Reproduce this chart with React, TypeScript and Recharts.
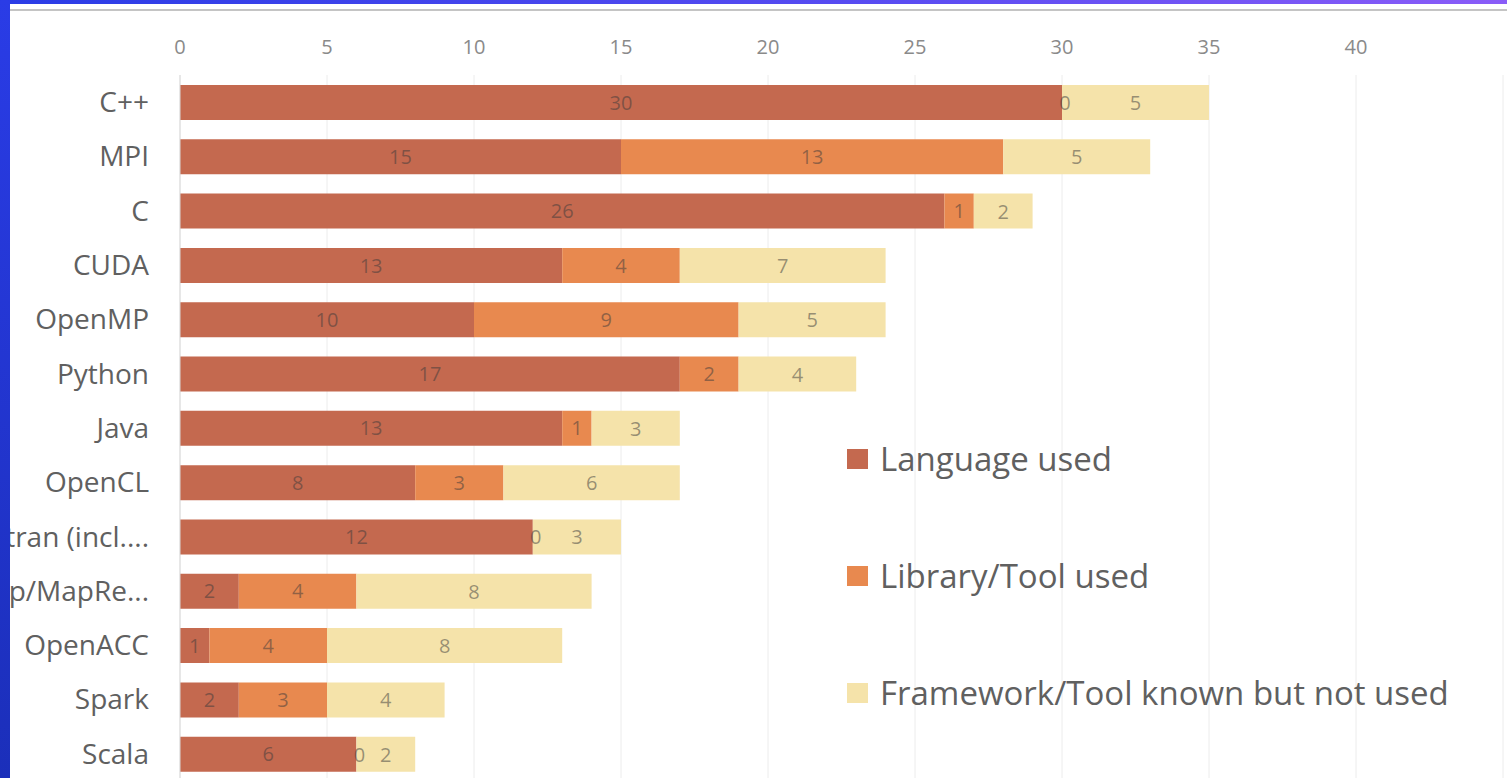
import React from "react";
import {
  BarChart,
  Bar,
  XAxis,
  YAxis,
  CartesianGrid,
  LabelList,
} from "recharts";

// categories (top to bottom) and the three stacked series
const categories = [
  "C++",
  "MPI",
  "C",
  "CUDA",
  "OpenMP",
  "Python",
  "Java",
  "OpenCL",
  "Fortran (incl....",
  "Hadoop/MapRe...",
  "OpenACC",
  "Spark",
  "Scala",
];
const languageUsed = [30, 15, 26, 13, 10, 17, 13, 8, 12, 2, 1, 2, 6];
const libraryUsed = [0, 13, 1, 4, 9, 2, 1, 3, 0, 4, 4, 3, 0];
const knownNotUsed = [5, 5, 2, 7, 5, 4, 3, 6, 3, 8, 8, 4, 2];
const xTicks = [0, 5, 10, 15, 20, 25, 30, 35, 40];

const series = [
  { key: "language", name: "Language used", color: "#c4694f" },
  { key: "library", name: "Library/Tool used", color: "#e8894f" },
  { key: "known", name: "Framework/Tool known but not used", color: "#f5e3aa" },
];

const data = categories.map((name, i) => ({
  name,
  language: languageUsed[i],
  library: libraryUsed[i],
  known: knownNotUsed[i],
}));

const FONT = "'Open Sans', Lato, sans-serif";
const LABEL_FILL = "#3a3a3a";

const labelText = (x: number, y: number, v: number, key: string) => (
  <text
    key={key}
    x={x}
    y={y}
    textAnchor="middle"
    dominantBaseline="central"
    fill={LABEL_FILL}
    fillOpacity={0.5}
    fontSize={20}
    fontFamily={FONT}
  >
    {v}
  </text>
);

// the last segment also prints a zero "Library/Tool" value at its left edge,
// since Recharts drops zero-width segments
const KnownLabel = (props: any) => {
  const { x, y, width, height, value, index } = props;
  const cy = y + height / 2;
  return (
    <g>
      {libraryUsed[index] === 0 && labelText(x + 3, cy, 0, "zero")}
      {labelText(x + width / 2, cy, value, "v")}
    </g>
  );
};

const SideLegend = () => (
  <div
    style={{
      position: "absolute",
      left: 847,
      top: 400,
      fontFamily: FONT,
    }}
  >
    {series.map((s) => (
      <div
        key={s.key}
        style={{ display: "flex", alignItems: "center", height: 117 }}
      >
        <span
          style={{
            width: 21,
            height: 20,
            background: s.color,
            display: "inline-block",
            marginRight: 12,
          }}
        />
        <span style={{ fontSize: 33, color: "#606060", whiteSpace: "nowrap" }}>
          {s.name}
        </span>
      </div>
    ))}
  </div>
);

export default function App() {
  return (
    <div
      style={{
        position: "fixed",
        left: 0,
        top: 0,
        width: 1507,
        height: 778,
        overflow: "hidden",
        background: "#ffffff",
      }}
    >
      <div style={{ position: "absolute", left: 0, top: 0 }}>
        <BarChart
          width={1507}
          height={792}
          data={data}
          layout="vertical"
          margin={{ top: 0, right: 4, bottom: 11, left: 0 }}
        >
          <CartesianGrid horizontal={false} stroke="#ececec" />
          <XAxis
            type="number"
            orientation="top"
            domain={[0, 45]}
            ticks={xTicks}
            axisLine={false}
            tickLine={false}
            tickSize={0}
            tickMargin={21}
            height={75}
            tick={{ fill: "#8a8a8a", fontSize: 20, fontFamily: FONT }}
          />
          <YAxis
            type="category"
            dataKey="name"
            width={180}
            axisLine={{ stroke: "#d9d9d9" }}
            tickLine={false}
            tickSize={0}
            tickMargin={31}
            interval={0}
            tick={{ fill: "#606060", fontSize: 28, fontFamily: FONT }}
          />
          {series.map((s) => (
            <Bar
              key={s.key}
              dataKey={s.key}
              name={s.name}
              stackId="a"
              fill={s.color}
              barSize={35}
              isAnimationActive={false}
            >
              {s.key === "known" ? (
                <LabelList dataKey={s.key} content={<KnownLabel />} />
              ) : (
                <LabelList
                  dataKey={s.key}
                  position="center"
                  fill={LABEL_FILL}
                  fillOpacity={0.5}
                  fontSize={20}
                  fontFamily={FONT}
                />
              )}
            </Bar>
          ))}
        </BarChart>
      </div>
      <SideLegend />
      {/* screenshot frame: blue edges and grey rule */}
      <div
        style={{
          position: "absolute",
          left: 0,
          top: 0,
          width: 1507,
          height: 4,
          background: "linear-gradient(to right, #2a3ce6, #5a4cf2 60%, #8a5cf8)",
        }}
      />
      <div
        style={{
          position: "absolute",
          left: 10,
          top: 9,
          width: 1497,
          height: 2,
          background: "#c4c4c4",
        }}
      />
      <div
        style={{
          position: "absolute",
          left: 0,
          top: 0,
          width: 10,
          height: 778,
          background: "linear-gradient(to bottom, #2a3ce6, #1b2fba)",
        }}
      />
    </div>
  );
}
